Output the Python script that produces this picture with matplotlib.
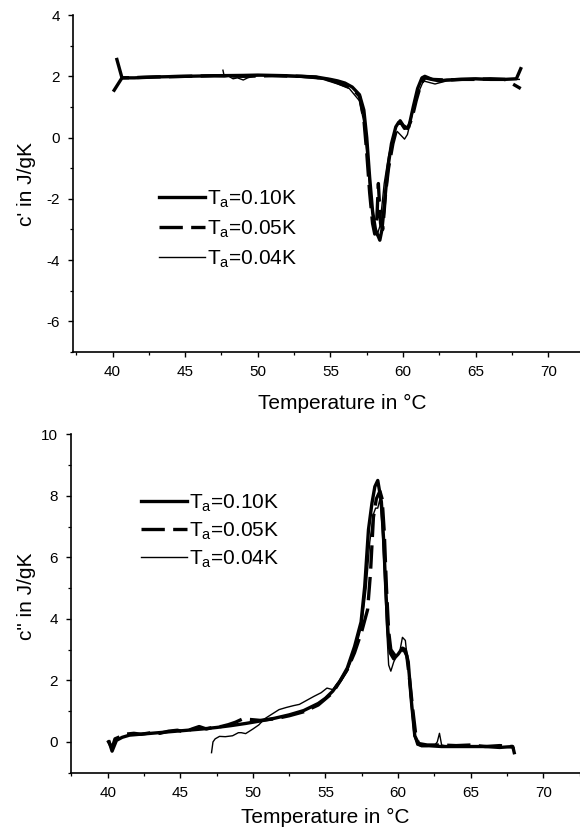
import matplotlib
matplotlib.use('Agg')
import matplotlib.pyplot as plt
from matplotlib.ticker import MultipleLocator
import numpy as np

plt.rcParams['font.family'] = ['Liberation Sans', 'DejaVu Sans']
plt.rcParams['mathtext.fontset'] = 'custom'
plt.rcParams['mathtext.rm'] = 'Liberation Sans'
plt.rcParams['axes.unicode_minus'] = False

labels = [r'T$_\mathregular{a}$=0.10K', r'T$_\mathregular{a}$=0.05K', r'T$_\mathregular{a}$=0.04K']

# c' (storage part), three amplitudes
c1_x_010 = np.array([40.3, 40.65, 41.5, 43, 45, 47, 49, 50, 51, 52, 53, 54, 55, 55.5, 56, 56.5, 57, 57.3,
                     57.5, 57.7, 57.9, 58.1, 58.4, 58.55, 58.75, 58.95, 59.2, 59.5, 59.7, 59.9, 60.1, 60.4,
                     60.7, 61.0, 61.3, 61.5, 62, 62.5, 63, 64, 65, 66, 67, 67.8, 68.1])
c1_y_010 = np.array([2.55, 1.95, 1.95, 1.98, 2.0, 2.02, 2.03, 2.04, 2.03, 2.02, 2.0, 1.98, 1.9, 1.85, 1.78,
                     1.65, 1.4, 0.9, 0.0, -1.3, -2.4, -3.0, -3.35, -3.0, -2.0, -1.0, -0.2, 0.35, 0.5, 0.45,
                     0.3, 0.35, 1.0, 1.6, 1.95, 2.0, 1.9, 1.85, 1.88, 1.9, 1.92, 1.9, 1.9, 1.92, 2.25])
c1_x_005 = np.array([40.05, 40.65, 41.5, 43, 45, 47, 49, 51, 53, 54, 55, 56, 56.5, 57, 57.3, 57.5, 57.7,
                     57.9, 58.05, 58.2, 58.3, 58.45, 58.6, 58.8, 59.0, 59.3, 59.6, 59.8, 60.0, 60.3, 60.6,
                     60.9, 61.2, 61.5, 62, 63, 64, 65, 66, 67, 68.1])
c1_y_005 = np.array([1.5, 1.95, 1.96, 1.98, 2.0, 2.02, 2.0, 2.02, 2.0, 1.97, 1.88, 1.7, 1.6, 1.35, 0.6, -0.5,
                     -1.8, -2.8, -3.15, -2.6, -1.5, -2.8, -3.0, -1.8, -1.0, -0.2, 0.35, 0.55, 0.4, 0.3, 0.6,
                     1.2, 1.7, 1.95, 1.9, 1.88, 1.9, 1.9, 1.92, 1.9, 1.6])
c1_x_004 = np.array([47.6, 47.7, 48.0, 48.3, 48.6, 49.0, 49.3, 49.7, 50.5, 51.5, 52.5, 53.5, 54.5, 55.5,
                     56.3, 57.0, 57.3, 57.55, 57.8, 58.0, 58.2, 58.4, 58.7, 59.0, 59.3, 59.6, 59.9, 60.1,
                     60.3, 60.6, 61.0, 61.4, 61.8, 62.2, 62.6, 63, 64, 65, 66, 67, 68.0])
c1_y_004 = np.array([2.2, 1.98, 2.0, 1.92, 1.95, 1.88, 1.95, 2.0, 2.05, 2.0, 1.98, 1.95, 1.9, 1.75, 1.6,
                     1.2, 0.5, -0.8, -2.2, -3.0, -3.2, -2.9, -1.5, -0.6, 0.0, 0.2, 0.05, -0.05, 0.1, 0.7,
                     1.4, 1.85, 1.8, 1.75, 1.8, 1.85, 1.88, 1.9, 1.88, 1.9, 1.9])

# c'' (loss part)
c2_x_010 = np.array([40.1, 40.3, 40.6, 41.0, 41.5, 42.5, 43.5, 44.5, 45.5, 46.5, 47.5, 48.5, 49.5, 50.5,
                     51.5, 52.5, 53.5, 54.5, 55.0, 55.5, 56.0, 56.5, 57.0, 57.45, 57.7, 57.96, 58.2, 58.4,
                     58.6, 58.85, 59.0, 59.15, 59.3, 59.45, 59.7, 60.0, 60.3, 60.5, 60.7, 60.9, 61.15,
                     61.4, 61.6, 62, 63, 64, 65, 66, 67, 67.9, 68.0])
c2_y_010 = np.array([0.0, -0.3, 0.05, 0.15, 0.22, 0.26, 0.3, 0.34, 0.38, 0.42, 0.47, 0.53, 0.6, 0.68,
                     0.77, 0.88, 1.02, 1.25, 1.42, 1.65, 1.98, 2.4, 3.1, 3.9, 5.05, 6.9, 7.76, 8.3, 8.5,
                     7.8, 6.6, 5.0, 3.6, 2.9, 2.7, 2.85, 3.05, 3.0, 2.6, 1.4, 0.2, -0.05, -0.12, -0.12,
                     -0.15, -0.15, -0.15, -0.15, -0.18, -0.15, -0.35])
c2_x_005 = np.array([40.0, 40.3, 40.5, 41.0, 41.2, 41.8, 42.3, 43.0, 43.6, 44.2, 44.8, 45.3, 45.8, 46.3,
                     46.8, 47.3, 47.8, 48.3, 48.8, 49.3, 50.5, 51.5, 52.5, 53.5, 54.5, 55.5, 56.5, 57.0,
                     57.5, 57.9, 58.1, 58.3, 58.5, 58.75, 58.9, 59.05, 59.2, 59.35, 59.5, 59.8, 60.1,
                     60.4, 60.6, 60.8, 61.0, 61.2, 61.4, 62, 63, 64, 65, 66, 67, 67.9])
c2_y_005 = np.array([0.05, -0.2, 0.1, 0.2, 0.25, 0.28, 0.25, 0.3, 0.28, 0.35, 0.38, 0.32, 0.42, 0.5,
                     0.42, 0.48, 0.5, 0.56, 0.64, 0.75, 0.7, 0.75, 0.85, 0.98, 1.2, 1.6, 2.35, 2.9, 3.6,
                     4.3, 5.5, 7.3, 7.9, 8.15, 7.9, 6.8, 5.0, 3.6, 3.0, 2.8, 2.9, 3.0, 2.8, 2.0, 1.1, 0.3,
                     -0.05, -0.1, -0.1, -0.12, -0.1, -0.15, -0.12, -0.15])
c2_x_004 = np.array([47.15, 47.25, 47.4, 47.7, 48.1, 48.6, 49.0, 49.2, 49.5, 50.0, 50.4, 50.8, 51.3, 51.8,
                     52.3, 52.8, 53.2, 53.7, 54.2, 54.7, 55.1, 55.5, 55.8, 56.1, 56.5, 57.0, 57.5, 57.8,
                     58.05, 58.3, 58.45, 58.6, 58.75, 58.9, 59.05, 59.2, 59.35, 59.5, 59.7, 59.9, 60.1,
                     60.3, 60.5, 60.7, 60.9, 61.1, 61.3, 61.6, 62.0, 62.5, 62.7, 62.85, 63.0, 63.5, 64,
                     65, 66, 67, 68.0])
c2_y_004 = np.array([-0.35, 0.0, 0.1, 0.18, 0.17, 0.2, 0.3, 0.3, 0.27, 0.42, 0.55, 0.75, 0.9, 1.05, 1.12,
                     1.18, 1.22, 1.35, 1.48, 1.6, 1.75, 1.7, 1.9, 2.0, 2.3, 2.9, 3.8, 5.0, 6.5, 7.4, 7.6,
                     7.6, 7.9, 7.0, 5.5, 3.8, 2.5, 2.3, 2.6, 2.8, 2.9, 3.4, 3.3, 2.4, 1.2, 0.2, -0.1,
                     -0.15, -0.15, -0.12, 0.0, 0.28, -0.1, -0.15, -0.12, -0.15, -0.12, -0.15, -0.2])

fig = plt.figure(figsize=(5.8, 8.32), dpi=100)
ax1 = fig.add_axes([0.1264, 0.5769, 0.8736, 0.4050])
ax2 = fig.add_axes([0.1224, 0.0713, 0.8776, 0.4067])

styles = [dict(color='black', lw=2.4, ls='-'),
          dict(color='black', lw=2.4, ls=(0, (7, 2.5))),
          dict(color='black', lw=1.0, ls='-')]

for x, y, st, lab in zip([c1_x_010, c1_x_005, c1_x_004], [c1_y_010, c1_y_005, c1_y_004], styles, labels):
    ax1.plot(x, y, label=lab, **st)
for x, y, st, lab in zip([c2_x_010, c2_x_005, c2_x_004], [c2_y_010, c2_y_005, c2_y_004], styles, labels):
    ax2.plot(x, y, label=lab, **st)

ax1.set_xlim(37.3, 72.18)
ax1.set_ylim(-7, 4)
ax1.yaxis.set_major_locator(MultipleLocator(2))
ax1.yaxis.set_minor_locator(MultipleLocator(1))
ax2.set_xlim(37.47, 72.53)
ax2.set_ylim(-1, 10)
ax2.yaxis.set_major_locator(MultipleLocator(2))
ax2.yaxis.set_minor_locator(MultipleLocator(1))

for ax in (ax1, ax2):
    ax.xaxis.set_major_locator(MultipleLocator(5))
    ax.xaxis.set_minor_locator(MultipleLocator(2.5))
    ax.spines['top'].set_visible(False)
    ax.spines['right'].set_visible(False)
    ax.spines['left'].set_linewidth(1.2)
    ax.spines['bottom'].set_linewidth(1.2)
    ax.tick_params(which='major', direction='out', length=3.5, width=1.0, labelsize=11, pad=6)
    ax.tick_params(which='minor', direction='out', length=2, width=0.9)

ax1.set_xlabel('Temperature in °C', fontsize=15)
ax1.xaxis.set_label_coords(0.53, -0.125)
ax1.set_ylabel("c' in J/gK", fontsize=15)
ax1.yaxis.set_label_coords(-0.073, 0.5)
ax2.set_xlabel('Temperature in °C', fontsize=15)
ax2.xaxis.set_label_coords(0.5, -0.105)
ax2.set_ylabel('c" in J/gK', fontsize=15)
ax2.yaxis.set_label_coords(-0.068, 0.52)

leg_kw = dict(frameon=False, fontsize=15, handlelength=2.2, handletextpad=0.1,
              borderpad=0, borderaxespad=0, loc='upper left')
ax1.legend(bbox_to_anchor=(0.169, 0.485), labelspacing=0.39, **leg_kw)
ax2.legend(bbox_to_anchor=(0.1375, 0.828), labelspacing=0.3, **leg_kw)

fig.savefig('out.png', dpi=100)
